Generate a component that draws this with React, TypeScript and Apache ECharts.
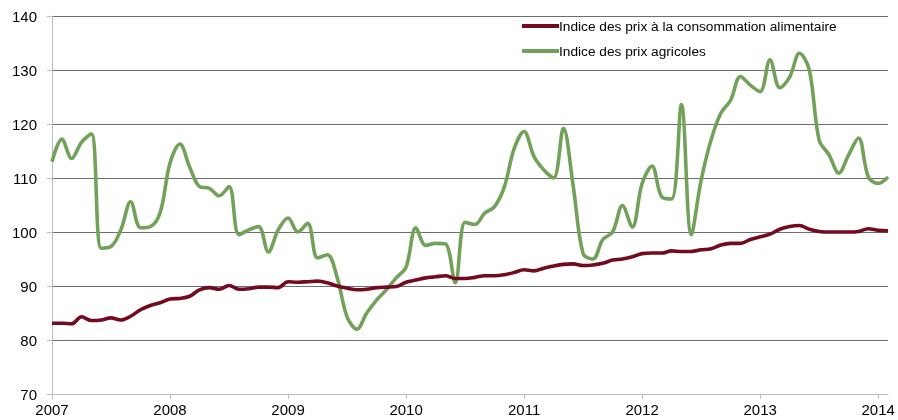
import React, { useEffect, useRef } from "react";
import * as echarts from "echarts";

const startYear = 2007;
const yearTicks = ["2007", "2008", "2009", "2010", "2011", "2012", "2013", "2014"];
const seriesNames = [
  "Indice des prix à la consommation alimentaire",
  "Indice des prix agricoles",
];

// Monthly values, Jan 2007 -> Feb 2014
const foodCpi = [
  83.1, 83.1, 83.0, 84.3, 83.6, 83.7, 84.1, 83.7, 84.4, 85.6, 86.4, 86.9,
  87.6, 87.7, 88.1, 89.3, 89.7, 89.4, 90.1, 89.4, 89.5, 89.8, 89.8, 89.7,
  90.8, 90.7, 90.8, 90.9, 90.6, 90.0, 89.6, 89.3, 89.4, 89.7, 89.8, 89.9,
  90.7, 91.1, 91.5, 91.7, 91.9, 91.4, 91.4, 91.6, 91.9, 91.9, 92.1, 92.5,
  93.0, 92.8, 93.3, 93.7, 94.0, 94.1, 93.8, 93.9, 94.2, 94.8, 95.0, 95.4,
  96.0, 96.1, 96.1, 96.5, 96.4, 96.4, 96.7, 96.9, 97.6, 97.9, 97.9, 98.6,
  99.1, 99.6, 100.5, 101.0, 101.2, 100.5, 100.1, 100.0, 100.0, 100.0, 100.1, 100.6,
  100.3, 100.2,
];

const agriPrices = [
  113.0, 117.2, 113.6, 116.6, 118.2, 97.0, 97.3, 100.4, 105.6, 100.8, 101.0, 103.6,
  112.8, 116.3, 112.0, 108.4, 108.1, 106.7, 108.4, 99.5, 100.4, 101.0, 96.3, 100.4,
  102.6, 100.0, 101.6, 95.2, 95.8, 91.5, 84.3, 82.0, 85.0, 87.4, 89.3, 91.5,
  93.5, 100.8, 97.5, 97.9, 97.8, 90.6, 101.8, 101.4, 103.5, 104.7, 108.4, 115.5,
  118.6, 114.0, 111.5, 110.0, 119.2, 108.4, 96.0, 95.0, 98.6, 100.0, 104.9, 100.9,
  109.0, 112.2, 106.5, 106.1, 123.6, 99.5, 109.6, 117.0, 122.0, 124.4, 128.8, 127.2,
  126.0, 131.9, 126.7, 128.7, 133.1, 130.0, 117.0, 114.3, 110.9, 114.3, 117.4, 110.2,
  109.0, 110.2,
];

const seriesColors = ["#730a1f", "#72a25a"];

export default function App() {
  const ref = useRef<HTMLDivElement>(null);

  useEffect(() => {
    if (!ref.current) return;
    const chart = echarts.init(ref.current, null, { renderer: "svg" });
    const toPairs = (arr: number[]) => arr.map((v, i) => [i, v]);
    const font = "Liberation Sans, Arial, sans-serif";
    const legendCommon = {
      left: 517,
      icon: "rect",
      itemWidth: 37,
      itemHeight: 4,
      itemGap: 0,
      textStyle: { fontFamily: font, fontSize: 13.7, color: "#000", padding: [0, 0, 0, -5] },
    };
    chart.setOption({
      animation: false,
      grid: {
        left: 52,
        right: 10,
        top: 16,
        bottom: 26,
        containLabel: false,
        outerBoundsMode: "none",
      },
      legend: [
        { ...legendCommon, data: [seriesNames[0]], top: 14 },
        { ...legendCommon, data: [seriesNames[1]], top: 39 },
      ],
      xAxis: {
        type: "value",
        min: 0,
        max: 85,
        interval: 12,
        axisLine: { show: true, lineStyle: { color: "#bdbdbd", width: 1 } },
        axisTick: { show: true, length: 5, lineStyle: { color: "#bdbdbd" } },
        splitLine: { show: false },
        axisLabel: {
          margin: 8,
          fontFamily: font,
          fontSize: 15,
          color: "#000",
          showMaxLabel: false,
          hideOverlap: false,
          formatter: (v: number) => yearTicks[Math.round(v / 12)] ?? String(startYear + v / 12),
        },
      },
      yAxis: {
        type: "value",
        min: 70,
        max: 140,
        interval: 10,
        axisLine: { show: true, lineStyle: { color: "#bdbdbd", width: 1 } },
        axisTick: { show: true, length: 5, lineStyle: { color: "#bdbdbd" } },
        splitLine: { show: true, lineStyle: { color: "#6e6e6e", width: 1 } },
        axisLabel: { margin: 15, fontFamily: font, fontSize: 15, color: "#000" },
      },
      series: [
        {
          name: seriesNames[1],
          type: "line",
          data: toPairs(agriPrices),
          smooth: 0.35,
          showSymbol: false,
          lineStyle: { color: seriesColors[1], width: 3.6 },
          itemStyle: { color: seriesColors[1] },
          z: 2,
        },
        {
          name: seriesNames[0],
          type: "line",
          data: toPairs(foodCpi),
          smooth: 0.35,
          showSymbol: false,
          lineStyle: { color: seriesColors[0], width: 3.6 },
          itemStyle: { color: seriesColors[0] },
          z: 3,
        },
      ],
    });
    return () => chart.dispose();
  }, []);

  return (
    <div
      ref={ref}
      style={{ position: "fixed", left: 0, top: 0, width: 898, height: 420, overflow: "hidden" }}
    />
  );
}
